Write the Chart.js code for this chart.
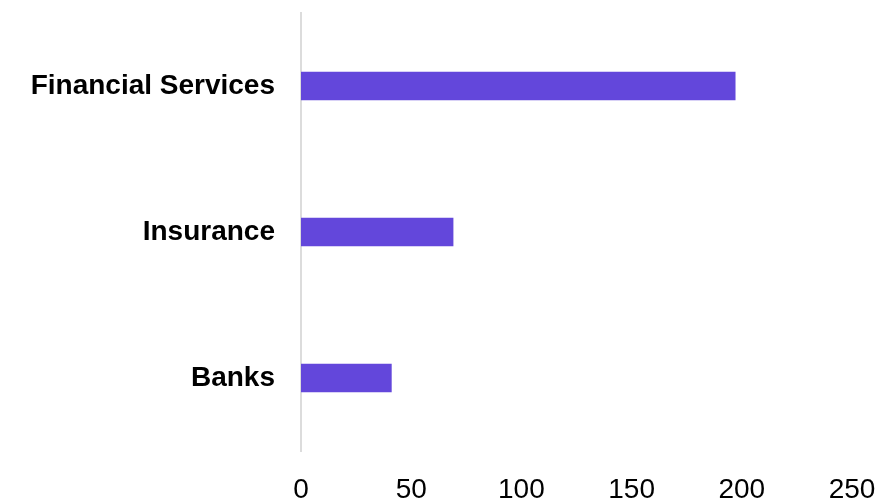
<!DOCTYPE html>
<html>
<head>
<meta charset="utf-8">
<script src="https://cdn.jsdelivr.net/npm/chart.js@4/dist/chart.umd.min.js"></script>
<style>
    html, body { margin: 0; padding: 0; background: #ffffff; }
    #wrap { width: 880px; height: 502px; }
</style>
</head>
<body>
<div id="wrap"><canvas id="grafik"></canvas></div>
<script>
const categories = ['Financial Services', 'Insurance', 'Banks'];
const values = [197, 69, 41];
const xTicks = [0, 50, 100, 150, 200, 250];

const ctx = document.getElementById('grafik');

new Chart(ctx, {
    type: 'bar',
    data: {
        labels: categories,
        datasets: [{
            data: values,
            backgroundColor: 'rgb(99, 71, 219)',
            borderWidth: 0,
            barThickness: 28
        }]
    },
    options: {
        indexAxis: 'y',
        responsive: true,
        maintainAspectRatio: false,
        animation: false,
        layout: {
            padding: { top: 13, right: 28, left: 0, bottom: 0 }
        },
        scales: {
            x: {
                min: xTicks[0],
                max: xTicks[xTicks.length - 1],
                afterBuildTicks: (scale) => {
                    scale.ticks = xTicks.map(v => ({ value: v }));
                },
                afterFit: (scale) => {
                    scale.height = 51;
                    scale.paddingLeft = 0;
                    scale.paddingRight = 0;
                },
                grid: { display: false, drawTicks: false },
                border: { display: false },
                ticks: {
                    color: '#000000',
                    padding: 22,
                    font: { family: 'Liberation Sans, Arial, sans-serif', size: 28 }
                }
            },
            y: {
                afterFit: (scale) => {
                    scale.width = 301;
                    scale.paddingTop = 0;
                    scale.paddingBottom = 0;
                },
                grid: { display: false, drawTicks: false },
                border: { display: true, color: '#dcdcdc', width: 2 },
                ticks: {
                    color: '#000000',
                    padding: 26,
                    font: { family: 'Liberation Sans, Arial, sans-serif', size: 28, weight: 'bold' }
                }
            }
        },
        plugins: {
            legend: { display: false },
            tooltip: { enabled: false }
        }
    }
});
</script>
</body>
</html>
